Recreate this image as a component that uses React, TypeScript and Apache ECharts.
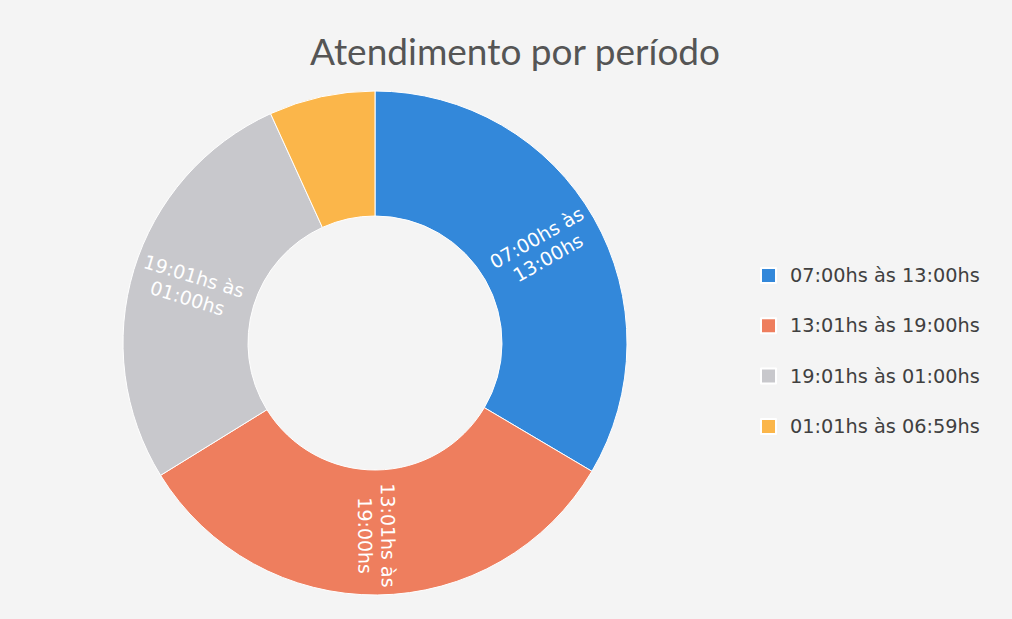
import React, { useEffect, useRef } from "react";
import * as echarts from "echarts";

const titleText = "Atendimento por período";
const categories = [
  "07:00hs às 13:00hs",
  "13:01hs às 19:00hs",
  "19:01hs às 01:00hs",
  "01:01hs às 06:59hs",
];
const sliceLabels = [
  "07:00hs às\n13:00hs",
  "13:01hs às\n19:00hs",
  "19:01hs às\n01:00hs",
  "",
];
const values = [33.5, 32.7, 27.0, 6.8];
const colors = ["#3388da", "#ee7e5e", "#c8c8cc", "#fbb64a"];

export default function App() {
  const ref = useRef<HTMLDivElement>(null);
  useEffect(() => {
    document.body.style.margin = "0";
    const chart = echarts.init(ref.current!, undefined, { renderer: "svg" });
    chart.setOption({
      animation: false,
      backgroundColor: "#f4f4f4",
      color: colors,
      title: {
        text: titleText,
        left: 305,
        top: 27,
        textStyle: {
          fontFamily: "Lato",
          fontSize: 37,
          fontWeight: "normal",
          color: "#555555",
        },
      },
      legend: {
        orient: "vertical",
        left: 755,
        top: 261,
        itemWidth: 15,
        itemHeight: 15,
        itemGap: 31.3,
        icon: "rect",
        textStyle: {
          fontFamily: "DejaVu Sans",
          fontSize: 19.3,
          lineHeight: 18,
          color: "#404040",
          padding: [0, 0, 0, 9],
        },
        data: categories,
      },
      series: [
        {
          type: "pie",
          center: [375, 343],
          radius: [127, 252],
          startAngle: 90,
          clockwise: true,
          avoidLabelOverlap: false,
          itemStyle: { borderColor: "#ffffff", borderWidth: 1 },
          label: {
            show: true,
            position: "inside",
            rotate: "radial",
            color: "#ffffff",
            fontFamily: "DejaVu Sans",
            fontSize: 19,
            lineHeight: 23,
            formatter: (p: any) => sliceLabels[p.dataIndex],
          },
          labelLine: { show: false },
          emphasis: { disabled: true },
          data: categories.map((name, i) => ({ name, value: values[i] })),
        },
      ],
    });
    return () => chart.dispose();
  }, []);
  return <div ref={ref} style={{ width: 1012, height: 619 }} />;
}
